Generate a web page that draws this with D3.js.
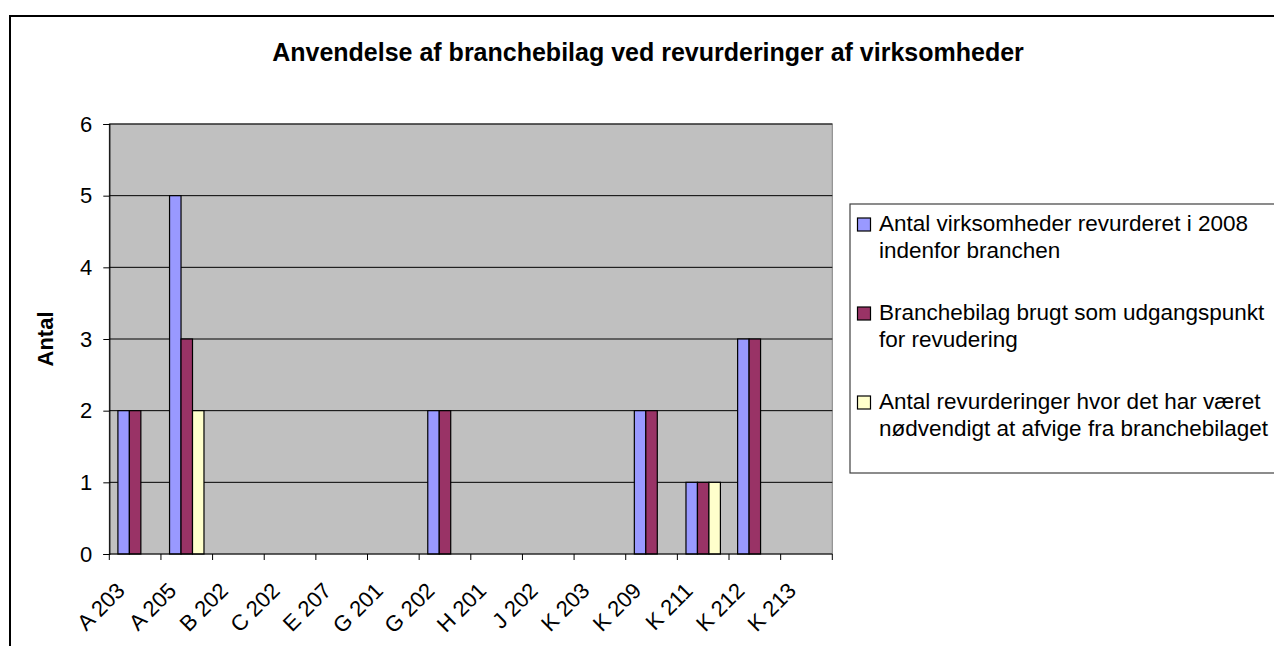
<!DOCTYPE html>
<html><head><meta charset="utf-8">
<script src="https://cdn.jsdelivr.net/npm/d3@7"></script>
<style>
html,body{margin:0;padding:0;background:#fff;}
svg{display:block;font-family:"Liberation Sans",Arial,sans-serif;}
</style></head>
<body>
<svg id="chart" width="1274" height="646"></svg>
<script>
const title = "Anvendelse af branchebilag ved revurderinger af virksomheder";
const yAxisTitle = "Antal";
const categories = ["A 203","A 205","B 202","C 202","E 207","G 201","G 202","H 201","J 202","K 203","K 209","K 211","K 212","K 213"];
const seriesNames = [
  ["Antal virksomheder revurderet i 2008","indenfor branchen"],
  ["Branchebilag brugt som udgangspunkt","for revudering"],
  ["Antal revurderinger hvor det har været","nødvendigt at afvige fra branchebilaget"]
];
const seriesColors = ["#9999FF","#993366","#FFFFCC"];
const s1 = [2,5,0,0,0,0,2,0,0,0,2,1,3,0];
const s2 = [2,3,0,0,0,0,2,0,0,0,2,1,3,0];
const s3 = [0,2,0,0,0,0,0,0,0,0,0,1,0,0];
const yTicks = [0,1,2,3,4,5,6];
const series = [s1,s2,s3];

const svg = d3.select("#chart");
const L = 109.3, R = 832.3, T = 124, B = 554;

// outer border
svg.append("rect").attr("x",10).attr("y",16).attr("width",1300).attr("height",700)
  .attr("fill","#fff").attr("stroke","#000").attr("stroke-width",2);

const x = d3.scaleBand().domain(categories).range([L,R]).paddingInner(0).paddingOuter(0);
const bw = x.bandwidth();
const w = bw/4.5;
const xs = d3.scaleBand().domain([0,1,2]).range([0.75*w, 3.75*w]).padding(0);
const y = d3.scaleLinear().domain([0,6]).range([B,T]);

// plot area
svg.append("rect").attr("x",L).attr("y",T).attr("width",R-L).attr("height",B-T)
  .attr("fill","#C0C0C0").attr("stroke","#808080").attr("stroke-width",1);

// gridlines
svg.append("g").selectAll("line").data(yTicks.filter(d=>d>0)).join("line")
  .attr("x1",L).attr("x2",R).attr("y1",d=>y(d)).attr("y2",d=>y(d))
  .attr("stroke","#000").attr("stroke-width",1);

// bars
const g = svg.append("g");
series.forEach((s,si)=>{
  g.selectAll(null).data(s.map((v,i)=>({v,c:categories[i]})).filter(d=>d.v>0)).join("rect")
    .attr("x",d=>x(d.c)+xs(si)).attr("width",xs.bandwidth())
    .attr("y",d=>y(d.v)).attr("height",d=>y(0)-y(d.v))
    .attr("fill",seriesColors[si]).attr("stroke","#000").attr("stroke-width",1.2);
});

// y axis
const yAxis = d3.axisLeft(y).tickValues(yTicks).tickSize(6).tickPadding(11).tickFormat(d3.format("d"));
const ya = svg.append("g").attr("transform",`translate(${L},0)`).call(yAxis);
ya.select(".domain").attr("stroke","#000").attr("stroke-width",1.2);
ya.selectAll(".tick line").attr("stroke","#000");
ya.selectAll("text").attr("font-size",22).attr("fill","#000").attr("font-family","Liberation Sans, Arial, sans-serif");

// x axis line + ticks at boundaries
svg.append("line").attr("x1",L).attr("x2",R).attr("y1",B).attr("y2",B).attr("stroke","#000").attr("stroke-width",1.2);
const bounds = categories.map(c=>x(c)).concat([R]);
svg.append("g").selectAll("line").data(bounds).join("line")
  .attr("x1",d=>d).attr("x2",d=>d).attr("y1",B).attr("y2",B+6).attr("stroke","#000");

// x labels
svg.append("g").selectAll("text").data(categories).join("text")
  .attr("transform",d=>`translate(${x(d)+bw/2-9},${B+38}) rotate(-45)`)
  .attr("text-anchor","end")
  .attr("font-size",22).attr("fill","#000").text(d=>d);

// title
svg.append("text").attr("x",648).attr("y",61).attr("text-anchor","middle")
  .attr("font-weight","bold").attr("font-size",25).attr("fill","#000").text(title);

// y axis title
svg.append("text").attr("transform",`translate(53,339) rotate(-90)`).attr("text-anchor","middle")
  .attr("font-weight","bold").attr("font-size",22).attr("fill","#000").text(yAxisTitle);

// legend
const lg = svg.append("g");
lg.append("rect").attr("x",850).attr("y",204).attr("width",500).attr("height",269)
  .attr("fill","#fff").attr("stroke","#404040").attr("stroke-width",1.2);
seriesNames.forEach((lines,i)=>{
  const by = 231 + i*89;
  lg.append("rect").attr("x",857.5).attr("y",by-13).attr("width",13).attr("height",13)
    .attr("fill",seriesColors[i]).attr("stroke","#000").attr("stroke-width",1.2);
  lines.forEach((t,j)=>{
    lg.append("text").attr("x",879).attr("y",by + j*27).attr("font-size",22.5).attr("fill","#000").text(t);
  });
});
</script>
</body></html>
